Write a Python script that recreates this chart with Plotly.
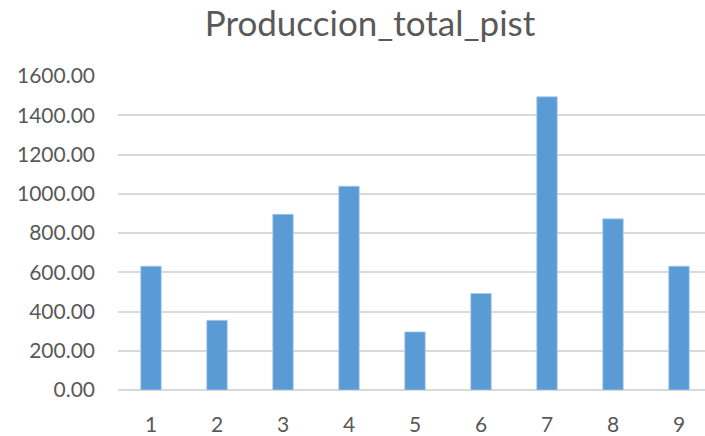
import plotly.graph_objects as go

# Chart data
categories = [1, 2, 3, 4, 5, 6, 7, 8, 9]
produccion = [631, 355, 895, 1038, 296, 492, 1494, 872, 631]
y_ticks = [0, 200, 400, 600, 800, 1000, 1200, 1400, 1600]
y_tick_labels = [f"{v:.2f}" for v in y_ticks]

fig = go.Figure(
    go.Bar(
        x=categories,
        y=produccion,
        marker=dict(color="#5b9bd5", line=dict(color="#a9c9ea", width=0.8)),
        width=0.31,
    )
)

fig.update_layout(
    width=705,
    height=436,
    margin=dict(l=118, r=0, t=76, b=44),
    paper_bgcolor="white",
    plot_bgcolor="white",
    showlegend=False,
    font=dict(family="Lato, Carlito, sans-serif", color="#595959", size=21),
    title=dict(
        text="Produccion_total_pist",
        x=370 / 705,
        xanchor="center",
        y=1 - 36 / 436,
        yanchor="bottom",
        font=dict(size=35, color="#595959", family="Lato, Carlito, sans-serif"),
    ),
)

fig.update_xaxes(
    range=[0.5, 0.5 + (705 - 118) / 66],
    tickmode="array",
    tickvals=categories,
    ticktext=[str(c) for c in categories],
    showgrid=False,
    zeroline=False,
    showline=False,
    ticks="",
    ticklabelstandoff=20,
)

fig.update_yaxes(
    range=[0, 1600],
    tickmode="array",
    tickvals=y_ticks,
    ticktext=y_tick_labels,
    showgrid=True,
    gridcolor="#d9d9d9",
    gridwidth=1.5,
    zeroline=True,
    zerolinecolor="#d9d9d9",
    zerolinewidth=1.5,
    showline=False,
    ticks="",
    ticklabelstandoff=22,
)

fig.write_html("out.html")
